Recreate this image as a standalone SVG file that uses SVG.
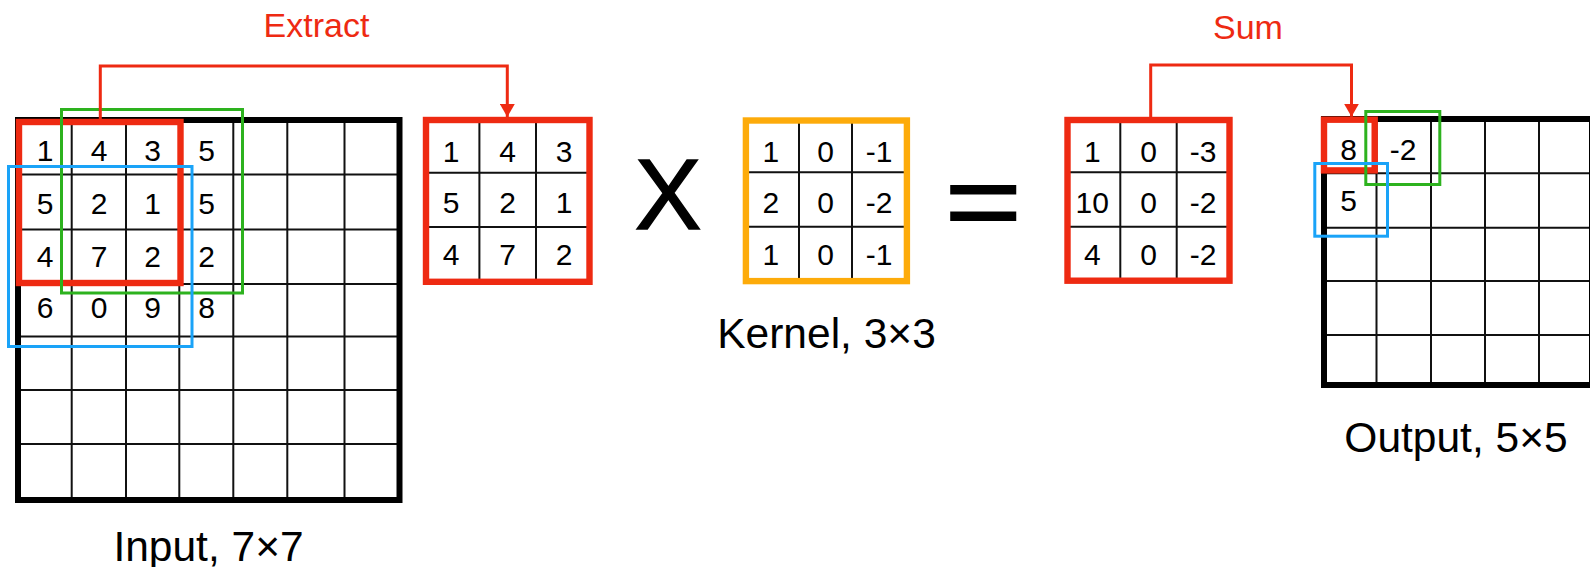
<svg xmlns="http://www.w3.org/2000/svg" width="1590" height="567" viewBox="0 0 1590 567">
  <defs>
    <style>
      .bg { fill: #ffffff; }
      .frame { fill: none; stroke: #000000; stroke-width: 6; }
      .grid { fill: none; stroke: #111111; stroke-width: 2; }
      .hl-red { fill: none; stroke: #ee2a12; stroke-width: 6.4; }
      .hl-green { fill: none; stroke: #2db21e; stroke-width: 3; }
      .hl-blue { fill: none; stroke: #1aa3f8; stroke-width: 3; }
      .hl-orange { fill: none; stroke: #fdab0a; stroke-width: 6.4; }
      .num { font-family: "Liberation Sans", Arial, Helvetica, sans-serif; font-size: 30px; fill: #000000; text-anchor: middle; }
      .label { font-family: "Liberation Sans", Arial, Helvetica, sans-serif; font-size: 42.5px; fill: #000000; text-anchor: middle; }
      .step { font-family: "Liberation Sans", Arial, Helvetica, sans-serif; font-size: 34px; fill: #ee2a12; text-anchor: middle; }
      .op { font-family: "Liberation Sans", Arial, Helvetica, sans-serif; fill: #000000; text-anchor: middle; }
      .link { fill: none; stroke: #ee2a12; stroke-width: 3; }
    </style>
    <marker id="head" viewBox="0 0 13 15" refX="13" refY="7.5" markerWidth="13" markerHeight="15" markerUnits="userSpaceOnUse" orient="auto">
      <path d="M0,0 L13,7.5 L0,15 z" fill="#ee2a12"/>
    </marker>
  </defs>

  <rect class="bg" x="0" y="0" width="1590" height="567"/>

  <!-- 7x7 input matrix with the three sliding windows -->
  <g id="input">
    <path class="grid" d="M71.7,120 V500 M126,120 V500 M179.3,120 V500 M233.3,120 V500 M287.3,120 V500 M344.5,120 V500
                          M18,174.5 H399.5 M18,229.5 H399.5 M18,284 H399.5 M18,336.5 H399.5 M18,390 H399.5 M18,444 H399.5"/>
    <rect class="frame" x="18" y="120" width="381.5" height="380"/>
    <g class="num">
      <text x="45" y="161">1</text><text x="99" y="161">4</text><text x="152.7" y="161">3</text><text x="206.5" y="161">5</text>
      <text x="45" y="214">5</text><text x="99" y="214">2</text><text x="152.7" y="214">1</text><text x="206.5" y="214">5</text>
      <text x="45" y="267">4</text><text x="99" y="267">7</text><text x="152.7" y="267">2</text><text x="206.5" y="267">2</text>
      <text x="45" y="318">6</text><text x="99" y="318">0</text><text x="152.7" y="318">9</text><text x="206.5" y="318">8</text>
    </g>
    <rect class="hl-red" x="19" y="122" width="161.5" height="161"/>
    <rect class="hl-green" x="61.5" y="109.5" width="181" height="183.5"/>
    <rect class="hl-blue" x="8.5" y="166.5" width="183.5" height="180"/>
  </g>

  <!-- extracted 3x3 patch -->
  <g id="patch">
    <path class="grid" d="M479.4,120 V282 M536,120 V282 M426,172.7 H589.5 M426,227 H589.5"/>
    <rect class="hl-red" x="426" y="120" width="163.5" height="161.8"/>
    <g class="num">
      <text x="451" y="161.5">1</text><text x="507.7" y="161.5">4</text><text x="564" y="161.5">3</text>
      <text x="451" y="213">5</text><text x="507.7" y="213">2</text><text x="564" y="213">1</text>
      <text x="451" y="264.5">4</text><text x="507.7" y="264.5">7</text><text x="564" y="264.5">2</text>
    </g>
  </g>

  <!-- multiplication sign -->
  <g id="times">
    <text class="op" x="668" y="228.5" font-size="100" stroke="#000000" stroke-width="1.5">X</text>
  </g>

  <!-- 3x3 kernel -->
  <g id="kernel">
    <path class="grid" d="M799,120.5 V281 M852,120.5 V281 M746,172.3 H907 M746,226.7 H907"/>
    <rect class="hl-orange" x="745.9" y="120.5" width="161" height="160.6"/>
    <g class="num">
      <text x="770.8" y="161.5">1</text><text x="825.5" y="161.5">0</text><text x="879" y="161.5">-1</text>
      <text x="770.8" y="213">2</text><text x="825.5" y="213">0</text><text x="879" y="213">-2</text>
      <text x="770.8" y="264.5">1</text><text x="825.5" y="264.5">0</text><text x="879" y="264.5">-1</text>
    </g>
    <text class="label" x="826.5" y="348">Kernel, 3×3</text>
  </g>

  <!-- equals sign, squeezed vertically to close up the bars -->
  <g id="equals">
    <text class="op" transform="translate(983.3,238.3) scale(1,0.8)" x="0" y="0" font-size="131" stroke="#000000" stroke-width="2.4">=</text>
  </g>

  <!-- element-wise products -->
  <g id="products">
    <path class="grid" d="M1120.3,120 V281 M1176.7,120 V281 M1067.5,172.3 H1229.5 M1067.5,226.7 H1229.5"/>
    <rect class="hl-red" x="1067.5" y="120" width="162" height="160.7"/>
    <g class="num">
      <text x="1092.3" y="161.5">1</text><text x="1148.5" y="161.5">0</text><text x="1203" y="161.5">-3</text>
      <text x="1092.3" y="213">10</text><text x="1148.5" y="213">0</text><text x="1203" y="213">-2</text>
      <text x="1092.3" y="264.5">4</text><text x="1148.5" y="264.5">0</text><text x="1203" y="264.5">-2</text>
    </g>
  </g>

  <!-- 5x5 output matrix -->
  <g id="output">
    <path class="grid" d="M1376.5,119 V385 M1431,119 V385 M1485,119 V385 M1539,119 V385
                          M1324,173.3 H1592 M1324,227.7 H1592 M1324,281 H1592 M1324,335 H1592"/>
    <rect class="frame" x="1324" y="119" width="268" height="266"/>
    <g class="num">
      <text x="1348.5" y="160">8</text><text x="1403" y="160">-2</text>
      <text x="1348.5" y="211">5</text>
    </g>
    <rect class="hl-red" x="1324" y="119.7" width="50.7" height="50.7"/>
    <rect class="hl-green" x="1365.8" y="111.5" width="74" height="73"/>
    <rect class="hl-blue" x="1314.8" y="163.5" width="72.7" height="72.7"/>
  </g>

  <!-- connectors -->
  <g id="connectors">
    <path class="link" d="M100.3,119 V66 H507.3 V117" marker-end="url(#head)"/>
    <path class="link" d="M1150.7,117 V65 H1351.5 V116.7" marker-end="url(#head)"/>
  </g>

  <!-- captions -->
  <g id="captions">
    <text class="step" x="316.5" y="37">Extract</text>
    <text class="step" x="1248" y="38.5">Sum</text>
    <text class="label" x="208.5" y="561">Input, 7×7</text>
    <text class="label" x="1456" y="452">Output, 5×5</text>
  </g>
</svg>
